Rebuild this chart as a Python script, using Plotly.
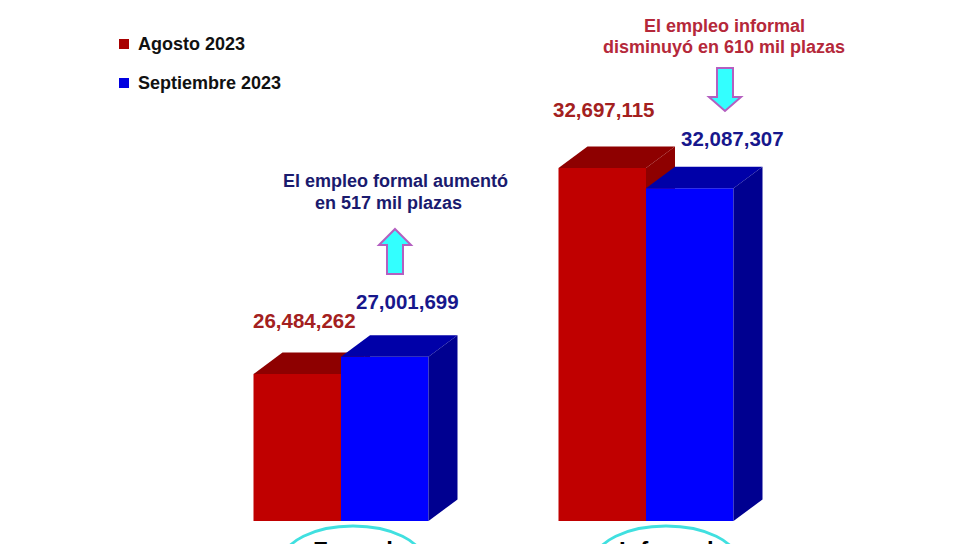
import plotly.graph_objects as go

# ---- data ----
categories = ["Formal", "Informal"]
series_names = ["Agosto 2023", "Septiembre 2023"]
agosto = [26484262, 32697115]
septiembre = [27001699, 32087307]

W, H = 966, 544
FONT = "Liberation Sans"
PX_PER_GROUP = 305.0
X_ZERO_PX = 341.0
PX_PER_UNIT = 33.15 / 1e6
BASE = 22.05e6
BASE_PX = 521.0

BAR_W = 87.5 / PX_PER_GROUP
DX = 29.0 / PX_PER_GROUP
DY = 21.5 / PX_PER_UNIT

xr = [-X_ZERO_PX / PX_PER_GROUP, (W - X_ZERO_PX) / PX_PER_GROUP]
yr = [BASE - (H - BASE_PX) / PX_PER_UNIT, BASE + BASE_PX / PX_PER_UNIT]

def px(x):
    return x / W

def py(y):
    return 1 - y / H

fig = go.Figure()

def add_series(name, values, offset, front, top, side, xa, ya):
    xs = list(range(len(categories)))
    fig.add_trace(go.Bar(x=xs, y=[v - BASE for v in values], base=BASE, offset=offset, width=BAR_W,
                         marker=dict(color=front, line=dict(width=0)), name=name,
                         xaxis=xa, yaxis=ya, legendgroup=name, showlegend=False,
                         hovertemplate="%{customdata:,}<extra>" + name + "</extra>",
                         customdata=values))
    for i, v in zip(xs, values):
        l, r = i + offset, i + offset + BAR_W
        # top face
        fig.add_trace(go.Scatter(x=[l, l + DX, r + DX, r, l], y=[v, v + DY, v + DY, v, v],
                                 fill="toself", fillcolor=top, mode="lines", line=dict(width=0),
                                 xaxis=xa, yaxis=ya, showlegend=False, hoverinfo="skip"))
        # side face
        fig.add_trace(go.Scatter(x=[r, r + DX, r + DX, r, r], y=[v, v + DY, BASE + DY, BASE, v],
                                 fill="toself", fillcolor=side, mode="lines", line=dict(width=0),
                                 xaxis=xa, yaxis=ya, showlegend=False, hoverinfo="skip"))

add_series(series_names[0], agosto, -BAR_W, "#C00000", "#8E0000", "#8E0000", "x", "y")
add_series(series_names[1], septiembre, 0.0, "#0000FF", "#0000A8", "#000090", "x2", "y2")

def ann(x, y, text, size, color, anchor="middle"):
    return dict(xref="paper", yref="paper", x=px(x), y=py(y), text=f"<b>{text}</b>", showarrow=False,
                xanchor="center", yanchor=anchor,
                font=dict(family=FONT, size=size, color=color))

RED_L, BLUE_L = "#A32020", "#17178C"
annotations = [
    ann(304, 320, f"{agosto[0]:,}", 20.5, RED_L),
    ann(407, 301, f"{septiembre[0]:,}", 20.5, BLUE_L),
    ann(603, 110, f"{agosto[1]:,}", 20.5, RED_L),
    ann(732, 138, f"{septiembre[1]:,}", 20.5, BLUE_L),
    ann(395, 181, "El empleo formal aumentó", 18, "#1A1A6E"),
    ann(388, 203, "en 517 mil plazas", 18, "#1A1A6E"),
    ann(724, 26, "El empleo informal", 18, "#B5283A"),
    ann(724, 47, "disminuyó en 610 mil plazas", 18, "#B5283A"),
    ann(353, 535, categories[0], 24, "#000000", "top"),
    ann(666, 535, categories[1], 24, "#000000", "top"),
]

def legend_text(y, text):
    return dict(xref="paper", yref="paper", x=px(136), y=py(y), text=f"<b>{text}</b>", showarrow=False,
                xanchor="left", yanchor="middle", font=dict(family=FONT, size=18, color="#111111"))

annotations += [legend_text(44, series_names[0]), legend_text(83, series_names[1])]

def arrow_path(points):
    return "M " + " L ".join(f"{px(x):.5f},{py(y):.5f}" for x, y in points) + " Z"

ARROW_FILL, ARROW_LINE = "#33FFFF", "#B45FC0"
cx = 395
up = [(cx, 229), (cx + 16, 245), (cx + 8, 245), (cx + 8, 274), (cx - 8, 274), (cx - 8, 245), (cx - 16, 245)]
cx = 725
down = [(cx - 8, 68), (cx + 8, 68), (cx + 8, 97), (cx + 16, 97), (cx, 111), (cx - 16, 97), (cx - 8, 97)]

shapes = [
    dict(type="path", xref="paper", yref="paper", path=arrow_path(up), fillcolor=ARROW_FILL,
         line=dict(color=ARROW_LINE, width=2)),
    dict(type="path", xref="paper", yref="paper", path=arrow_path(down), fillcolor=ARROW_FILL,
         line=dict(color=ARROW_LINE, width=2)),
    dict(type="circle", xref="paper", yref="paper", x0=px(283), x1=px(423), y0=py(596), y1=py(526),
         line=dict(color="#40E0E0", width=3), fillcolor="rgba(0,0,0,0)"),
    dict(type="circle", xref="paper", yref="paper", x0=px(595), x1=px(737), y0=py(596), y1=py(526),
         line=dict(color="#40E0E0", width=3), fillcolor="rgba(0,0,0,0)"),
    dict(type="rect", xref="paper", yref="paper", x0=px(119), x1=px(129), y0=py(49), y1=py(39),
         fillcolor="#A80000", line=dict(width=0)),
    dict(type="rect", xref="paper", yref="paper", x0=px(119), x1=px(129), y0=py(88), y1=py(78),
         fillcolor="#0000E0", line=dict(width=0)),
]

axis = dict(visible=False, fixedrange=True)
fig.update_layout(
    width=W, height=H, margin=dict(l=0, r=0, t=0, b=0),
    paper_bgcolor="white", plot_bgcolor="white", showlegend=False,
    barmode="overlay", annotations=annotations, shapes=shapes,
    xaxis=dict(range=xr, **axis), yaxis=dict(range=yr, **axis),
    xaxis2=dict(range=xr, overlaying="x", **axis), yaxis2=dict(range=yr, overlaying="y", **axis),
)

fig.write_html("out.html", config=dict(displayModeBar=False),
               post_script="document.body.style.margin='0';document.body.style.overflow='hidden';")
